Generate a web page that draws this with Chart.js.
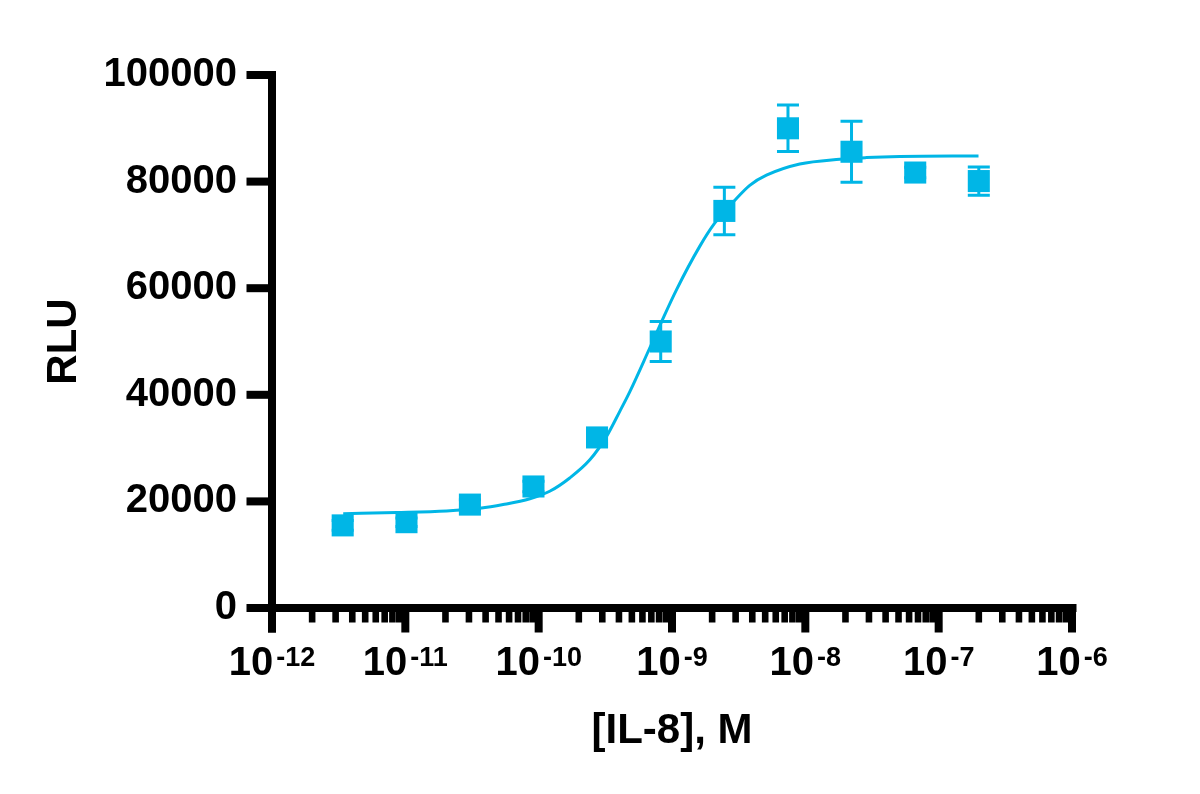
<!DOCTYPE html>
<html><head><meta charset="utf-8">
<script src="https://cdn.jsdelivr.net/npm/chart.js@4.4.0/dist/chart.umd.min.js"></script>
<style>html,body{margin:0;padding:0;background:#fff;}#wrap{width:1200px;height:794px;}</style>
</head><body><div id="wrap"><canvas id="c" width="1200" height="794"></canvas></div>
<script>
// Measured data (3-fold dilutions from 200 nM)
const concentrations = [3.39e-12, 1.02e-11, 3.05e-11, 9.14e-11, 2.74e-10, 8.23e-10, 2.47e-9, 7.41e-9, 2.22e-8, 6.67e-8, 2.0e-7];
const rluMean = [15500, 16100, 19400, 22800, 32000, 50000, 74500, 90000, 85600, 81700, 80100];
const rluError = [900, 800, 900, 1000, 1200, 3750, 4450, 4350, 5700, 1000, 2650];
// Fitted curve
const fitConc = [3.42e-12, 8.61e-12, 2.04e-11, 3.62e-11, 5.42e-11, 8.59e-11, 1.21e-10, 1.71e-10, 2.42e-10, 3.23e-10, 4.06e-10, 4.83e-10, 6.73e-10, 8.34e-10, 1.08e-9, 1.61e-9, 2.09e-9, 2.96e-9, 3.83e-9, 5.11e-9, 9.08e-9, 1.81e-8, 2.87e-8, 5.11e-8, 1.99e-7];
const fitRLU = [17700, 17900, 18200, 18700, 19400, 20500, 21900, 24400, 27800, 32200, 36900, 40600, 48500, 53700, 59700, 67800, 72200, 76500, 79300, 81200, 83300, 84200, 84500, 84700, 84800];
// Axis ticks
const yTickValues = [0, 20000, 40000, 60000, 80000, 100000];
const xDecades = [-12, -11, -10, -9, -8, -7, -6];
const xMinorMultipliers = [2, 3, 4, 5, 6, 7, 8, 9];

const COLOR = '#00B6E6';
const FONT = "'Liberation Sans', Arial, Helvetica, sans-serif";

const axesPlugin = {
  id: 'prismAxes',
  beforeDatasetsDraw(chart) {
    const ctx = chart.ctx, xs = chart.scales.x, ys = chart.scales.y;
    ctx.save();
    ctx.strokeStyle = COLOR;
    ctx.lineWidth = 3;
    concentrations.forEach((c, i) => {
      const px = xs.getPixelForValue(c);
      const top = ys.getPixelForValue(rluMean[i] + rluError[i]);
      const bot = ys.getPixelForValue(rluMean[i] - rluError[i]);
      ctx.beginPath();
      ctx.moveTo(px, top); ctx.lineTo(px, bot);
      ctx.moveTo(px - 11, top); ctx.lineTo(px + 11, top);
      ctx.moveTo(px - 11, bot); ctx.lineTo(px + 11, bot);
      ctx.stroke();
    });
    ctx.restore();
  },
  afterDraw(chart) {
    const ctx = chart.ctx, xs = chart.scales.x, ys = chart.scales.y;
    const y0 = ys.getPixelForValue(0);
    const yTop = ys.getPixelForValue(100000);
    const xL = xs.getPixelForValue(1e-12);
    const xR = xs.getPixelForValue(1e-6);
    ctx.save();
    ctx.fillStyle = '#000';
    // y axis line
    ctx.fillRect(xL - 4, yTop - 4, 8, (y0 + 24.5) - (yTop - 4));
    // x axis line
    ctx.fillRect(xL - 4, y0 - 4, (xR + 4.5) - (xL - 4), 8);
    // y ticks
    yTickValues.forEach(v => {
      const p = ys.getPixelForValue(v);
      ctx.fillRect(xL - 25.5, p - 4, 25.5, 8);
    });
    // x ticks
    xDecades.forEach(d => {
      const base = Math.pow(10, d);
      const p = xs.getPixelForValue(base);
      ctx.fillRect(p - 4, y0, 8, 24.5);
      if (d < -6) {
        xMinorMultipliers.forEach(m => {
          const q = xs.getPixelForValue(m * base);
          ctx.fillRect(q - 3.3, y0, 6.6, 14.5);
        });
      }
    });
    // x tick labels 10^n
    ctx.textBaseline = 'alphabetic';
    ctx.textAlign = 'left';
    xDecades.forEach(d => {
      const p = xs.getPixelForValue(Math.pow(10, d));
      ctx.font = 'bold 40px ' + FONT;
      const w1 = ctx.measureText('10').width;
      ctx.font = 'bold 27px ' + FONT;
      const sup = String(d);
      const w2 = ctx.measureText(sup).width;
      const gap = 3;
      const start = p - (w1 + gap + w2) / 2;
      ctx.font = 'bold 40px ' + FONT;
      ctx.fillText('10', start, y0 + 67);
      ctx.font = 'bold 27px ' + FONT;
      ctx.fillText(sup, start + w1 + gap, y0 + 58);
    });
    ctx.restore();
  }
};

new Chart(document.getElementById('c'), {
  type: 'scatter',
  data: {
    datasets: [
      {
        label: 'Fit',
        type: 'line',
        data: fitConc.map((x, i) => ({ x: x, y: fitRLU[i] })),
        borderColor: COLOR,
        borderWidth: 3,
        pointRadius: 0,
        fill: false,
        cubicInterpolationMode: 'monotone',
        order: 2
      },
      {
        label: 'IL-8',
        data: concentrations.map((x, i) => ({ x: x, y: rluMean[i] })),
        pointStyle: 'rect',
        pointRadius: 15.6,
        backgroundColor: COLOR,
        borderWidth: 0,
        order: 1
      }
    ]
  },
  options: {
    responsive: false,
    animation: false,
    devicePixelRatio: 1,
    layout: { padding: { left: 0, top: 75, right: 128, bottom: 0 } },
    plugins: { legend: { display: false }, tooltip: { enabled: false } },
    scales: {
      x: {
        type: 'logarithmic',
        min: 1e-12, max: 1e-6,
        grid: { display: false },
        border: { display: false },
        ticks: { display: false },
        title: { display: true, text: '[IL-8], M', color: '#000', font: { family: FONT, size: 42, weight: 'bold' }, padding: { top: 0, bottom: 37 } },
        afterFit: s => { s.height = 186; }
      },
      y: {
        min: 0, max: 100000,
        grid: { display: false },
        border: { display: false },
        ticks: {
          stepSize: 20000, padding: 27, color: '#000',
          font: { family: FONT, size: 40, weight: 'bold' },
          callback: v => String(v)
        },
        title: { display: true, text: 'RLU', color: '#000', font: { family: FONT, size: 42, weight: 'bold' }, padding: { top: 39, bottom: 0 } },
        afterFit: s => { s.width = 272; }
      }
    }
  },
  plugins: [axesPlugin]
});
</script>
</body></html>
